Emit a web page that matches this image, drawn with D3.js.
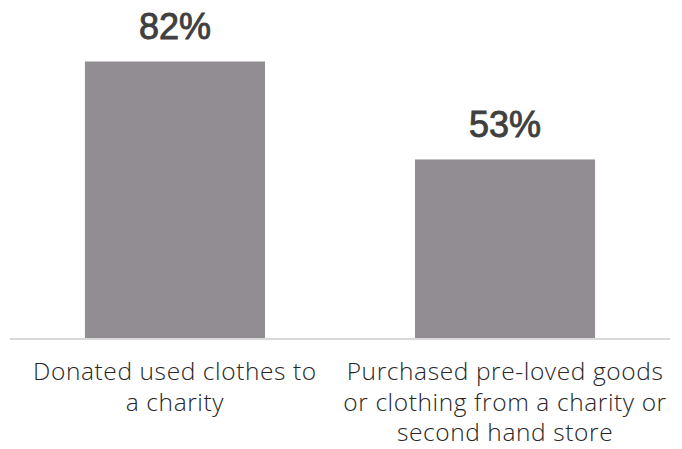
<!DOCTYPE html>
<html>
<head>
<meta charset="utf-8">
<script src="https://cdn.jsdelivr.net/npm/d3@7"></script>
<style>
  html, body { margin: 0; padding: 0; background: #ffffff; }
  svg { display: block; }
</style>
</head>
<body>
<svg id="chart" width="682" height="449"></svg>
<script>
// Share of respondents for each action
const categories = [
  ["Donated used clothes to", "a charity"],
  ["Purchased pre-loved goods", "or clothing from a charity or", "second hand store"]
];
const values = [82, 53];
const valueLabels = ["82%", "53%"];

const svg = d3.select("#chart");
const baseY = 338.5;

const x = d3.scaleBand()
  .domain(d3.range(values.length))
  .range([10, 670])
  .paddingInner(0.4545)
  .paddingOuter(0.227);

const y = d3.scaleLinear()
  .domain([0, 82])
  .range([baseY, 61.5]);

// bars
svg.selectAll("rect.bar")
  .data(values)
  .join("rect")
  .attr("class", "bar")
  .attr("x", (d, i) => x(i))
  .attr("y", d => y(d))
  .attr("width", x.bandwidth())
  .attr("height", d => baseY - y(d))
  .attr("fill", "#928d92");

// baseline
svg.append("line")
  .attr("x1", 10).attr("x2", 670)
  .attr("y1", baseY + 0.5).attr("y2", baseY + 0.5)
  .attr("stroke", "#d9d9d9")
  .attr("stroke-width", 2);

// value labels above bars
svg.selectAll("text.value")
  .data(values)
  .join("text")
  .attr("class", "value")
  .attr("x", (d, i) => x(i) + x.bandwidth() / 2)
  .attr("y", d => y(d) - 22.5)
  .attr("text-anchor", "middle")
  .attr("font-family", "Liberation Sans, Arial, sans-serif")
  .attr("font-size", 36)
  .attr("fill", "#404040")
  .attr("stroke", "#404040")
  .attr("stroke-width", 0.9)
  .text((d, i) => valueLabels[i]);

// category labels below the axis
const cat = svg.selectAll("text.cat")
  .data(categories)
  .join("text")
  .attr("class", "cat")
  .attr("text-anchor", "middle")
  .attr("font-family", "Open Sans, sans-serif")
  .attr("font-weight", 300)
  .attr("font-size", 24.5)
  .attr("letter-spacing", 0.6)
  .attr("fill", "#262626");

cat.selectAll("tspan")
  .data((d, i) => d.map(line => ({ line, i })))
  .join("tspan")
  .attr("x", d => x(d.i) + x.bandwidth() / 2)
  .attr("y", (d, j) => 380 + j * 30.5)
  .text(d => d.line);
</script>
</body>
</html>
